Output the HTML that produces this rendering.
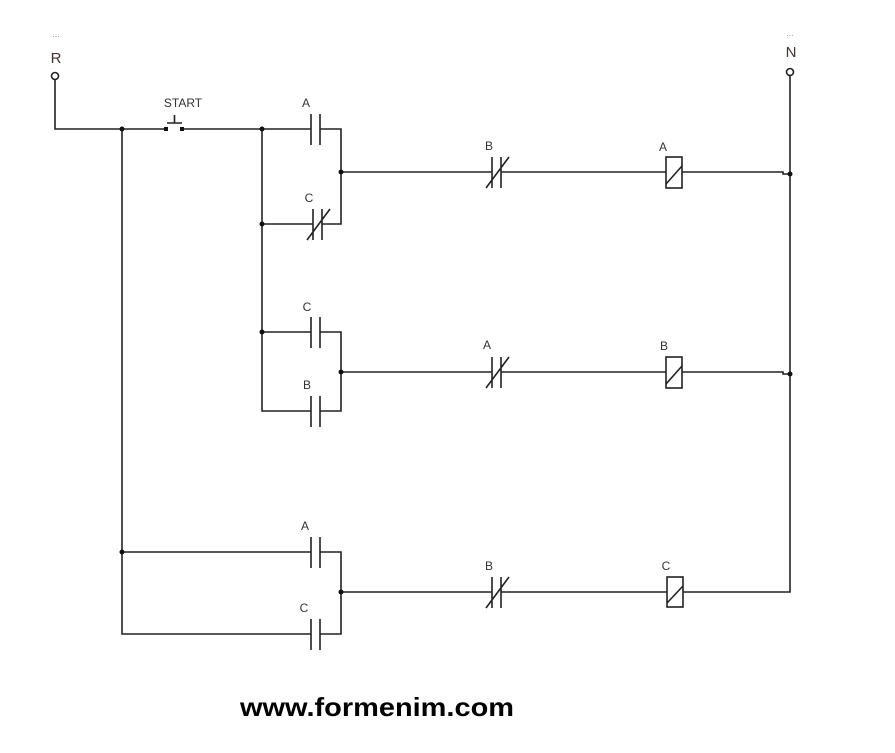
<!DOCTYPE html>
<html><head><meta charset="utf-8"><style>
html,body{margin:0;padding:0;background:#fff;}
svg{display:block}
text{font-family:"Liberation Sans",sans-serif;}
.l{font-size:12px;fill:#333;text-anchor:middle;}
</style></head><body>
<svg width="895" height="753" viewBox="0 0 895 753" xmlns="http://www.w3.org/2000/svg">
<g stroke="#222" stroke-width="1.6" fill="none">
<!-- R rail -->
<circle cx="55" cy="76" r="3.5" fill="#fff"/>
<path d="M55 80V129H166"/>
<path d="M182 129H311"/>
<!-- start button -->
<path d="M167 123H182M174.5 115V123"/>
<!-- left bus -->
<path d="M122 129V634H311M122 552H311"/>
<!-- branch bus -->
<path d="M262 129V411H311M262 224H313M262 332H311"/>
<!-- right joins -->
<path d="M320 129H341V224H322"/>
<path d="M320 332H341V411H320"/>
<path d="M320 552H341V634H320"/>
<!-- rungs -->
<path d="M341 172H492M501 172H666M682 172H783V174H790"/>
<path d="M341 372H492M501 372H666M682 372H783V374H790"/>
<path d="M341 592H492M501 592H667M683 592H790V72"/>
<circle cx="790" cy="72" r="3.5" fill="#fff"/>
<!-- NO contacts -->
<path d="M311 114V145M320 114V145"/>
<path d="M311 317V348M320 317V348"/>
<path d="M311 396V427M320 396V427"/>
<path d="M311 537V568M320 537V568"/>
<path d="M311 619V650M320 619V650"/>
<!-- NC contacts -->
<path d="M313 209V240M322 209V240M307 240L330 209"/>
<path d="M492 157V188M501 157V188M486 188L509 157"/>
<path d="M492 357V388M501 357V388M486 388L509 357"/>
<path d="M492 577V608M501 577V608M486 608L509 577"/>
<!-- coils -->
<rect x="666" y="157" width="16" height="31" fill="#fff"/><path d="M666 184L682 166"/>
<rect x="666" y="357" width="16" height="31" fill="#fff"/><path d="M666 384L682 366"/>
<rect x="667" y="577" width="16" height="30" fill="#fff"/><path d="M667 603L683 586"/>
</g>
<g fill="#111">
<rect x="164" y="127" width="4" height="4"/><rect x="180" y="127" width="4" height="4"/>
<circle cx="122" cy="129" r="2.5"/><circle cx="262" cy="129" r="2.5"/>
<circle cx="262" cy="224" r="2.5"/><circle cx="262" cy="332" r="2.5"/>
<circle cx="341" cy="172" r="2.5"/><circle cx="341" cy="372" r="2.5"/>
<circle cx="341" cy="592" r="2.5"/><circle cx="122" cy="552" r="2.5"/>
<circle cx="790" cy="174" r="2.5"/><circle cx="790" cy="374" r="2.5"/>
</g>
<text x="56" y="37" class="l" fill="#999" style="fill:#999;font-size:9px">...</text>
<text x="790" y="36" class="l" style="fill:#999;font-size:9px">...</text>
<text x="56" y="63" class="l" style="font-size:15px;fill:#433">R</text>
<text x="791" y="57" class="l" style="font-size:15px;fill:#433">N</text>
<text x="183" y="107" class="l">START</text>
<text x="306" y="107" class="l">A</text>
<text x="309" y="202" class="l">C</text>
<text x="489" y="150" class="l">B</text>
<text x="663" y="151" class="l">A</text>
<text x="307" y="311" class="l">C</text>
<text x="307" y="389" class="l">B</text>
<text x="487" y="349" class="l">A</text>
<text x="664" y="350" class="l">B</text>
<text x="305" y="530" class="l">A</text>
<text x="304" y="612" class="l">C</text>
<text x="489" y="570" class="l">B</text>
<text x="666" y="570" class="l">C</text>
<text x="240" y="716" textLength="274" lengthAdjust="spacingAndGlyphs" style="font-size:26px;font-weight:bold;fill:#000">www.formenim.com</text>
</svg>
</body></html>
